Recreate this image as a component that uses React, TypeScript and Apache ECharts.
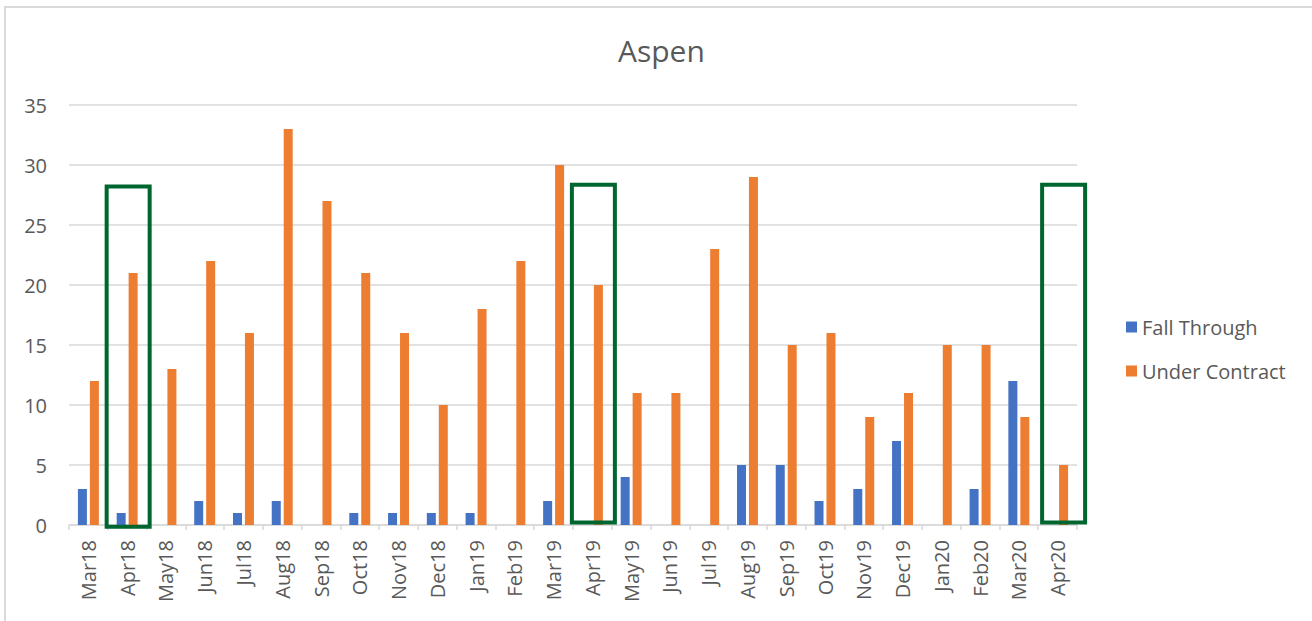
import React, { useEffect, useRef } from "react";
import * as echarts from "echarts";

const categories = [
  "Mar18", "Apr18", "May18", "Jun18", "Jul18", "Aug18", "Sep18", "Oct18", "Nov18", "Dec18",
  "Jan19", "Feb19", "Mar19", "Apr19", "May19", "Jun19", "Jul19", "Aug19", "Sep19", "Oct19",
  "Nov19", "Dec19", "Jan20", "Feb20", "Mar20", "Apr20",
];

const fallThrough = [3, 1, 0, 2, 1, 2, 0, 1, 1, 1, 1, 0, 2, 0, 4, 0, 0, 5, 5, 2, 3, 7, 0, 3, 12, 0];
const underContract = [12, 21, 13, 22, 16, 33, 27, 21, 16, 10, 18, 22, 30, 20, 11, 11, 23, 29, 15, 16, 9, 11, 15, 15, 9, 5];

const yTicks = { min: 0, max: 35, interval: 5 };

// highlight boxes (annotation): month, top value, bottom value
const highlightMonths = ["Apr18", "Apr19", "Apr20"];
const highlightTop = [28.2, 28.35, 28.35];
const highlightBottom = [-0.15, 0.2, 0.2];
const highlightOffsetPx = [1, 1, 6];

const TEXT = "#595959";
const GRID = "#D9D9D9";
const FONT = "'Open Sans', 'DejaVu Sans', sans-serif";

export default function App() {
  const ref = useRef<HTMLDivElement>(null);

  useEffect(() => {
    if (!ref.current) return;
    const chart = echarts.init(ref.current, undefined, { renderer: "svg" });
    const boxData = highlightMonths.map((m, i) => [m, highlightTop[i], highlightBottom[i], i]);
    chart.setOption({
      animation: false,
      backgroundColor: "#ffffff",
      textStyle: { fontFamily: FONT },
      title: {
        text: "Aspen",
        left: 613,
        top: 30,
        textStyle: { fontFamily: FONT, fontSize: 30, fontWeight: "normal", color: TEXT },
      },
      legend: {
        data: ["Fall Through", "Under Contract"],
        orient: "vertical",
        left: 1121,
        top: 312,
        itemWidth: 11,
        itemHeight: 11,
        itemGap: 24,
        icon: "rect",
        textStyle: { fontFamily: FONT, fontSize: 20, color: TEXT },
      },
      graphic: [
        {
          type: "rect",
          silent: true,
          shape: { x: 5, y: 7, width: 1400, height: 700 },
          style: { fill: "none", stroke: GRID, lineWidth: 2 },
        },
      ],
      grid: { left: 69, right: 235, top: 105, bottom: 96, containLabel: false },
      xAxis: {
        type: "category",
        data: categories,
        axisLine: { lineStyle: { color: GRID, width: 1.5 } },
        axisTick: { show: true, length: 5, lineStyle: { color: GRID, width: 1.5 } },
        axisLabel: {
          rotate: 90,
          interval: 0,
          margin: 15,
          fontFamily: FONT,
          fontSize: 20,
          color: TEXT,
        },
      },
      yAxis: {
        type: "value",
        min: yTicks.min,
        max: yTicks.max,
        interval: yTicks.interval,
        axisLine: { show: false },
        axisTick: { show: false },
        splitLine: { lineStyle: { color: GRID, width: 1.5 } },
        axisLabel: { margin: 22, fontFamily: FONT, fontSize: 20, color: TEXT },
      },
      series: [
        {
          name: "Fall Through",
          type: "bar",
          data: fallThrough,
          barWidth: 9,
          barGap: "33%",
          itemStyle: { color: "#4472C4" },
        },
        {
          name: "Under Contract",
          type: "bar",
          data: underContract,
          barWidth: 9,
          barGap: "33%",
          itemStyle: { color: "#ED7D31" },
        },
        {
          name: "highlight",
          type: "custom",
          silent: true,
          clip: false,
          z: 10,
          encode: { x: 0, y: 1 },
          data: boxData,
          renderItem: (params: any, api: any) => {
            const idx = api.value(3);
            const top = api.coord([api.value(0), api.value(1)]);
            const bottom = api.coord([api.value(0), api.value(2)]);
            const w = 43;
            const cx = top[0] + highlightOffsetPx[idx];
            return {
              type: "rect",
              shape: { x: cx - w / 2, y: top[1], width: w, height: bottom[1] - top[1] },
              style: { fill: "none", stroke: "#00662F", lineWidth: 4 },
            };
          },
        },
      ],
    });
    return () => chart.dispose();
  }, []);

  return (
    <div
      ref={ref}
      style={{ position: "fixed", left: 0, top: 0, width: 1312, height: 621, background: "#fff" }}
    />
  );
}
